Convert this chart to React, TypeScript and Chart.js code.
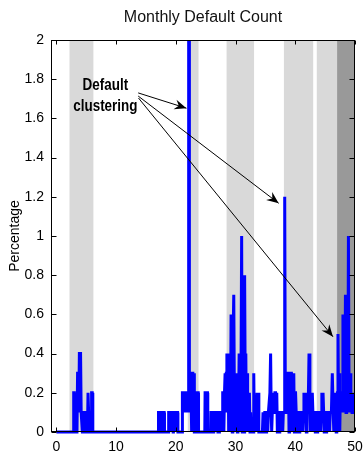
import React, { useEffect, useRef } from "react";
import { Chart, registerables } from "chart.js";

Chart.register(...registerables);

const chartTitle = "Monthly Default Count";
const yAxisTitle = "Percentage";
const xTickValues = [0, 10, 20, 30, 40, 50];
const yTickValues = [0, 0.2, 0.4, 0.6, 0.8, 1, 1.2, 1.4, 1.6, 1.8, 2];
const yTickLabels = ["0", "0.2", "0.4", "0.6", "0.8", "1", "1.2", "1.4", "1.6", "1.8", "2"];

// time (years) and monthly default percentage
const timeYears = [
  0, 2.8, 2.9, 3.0, 3.1, 3.45, 3.55, 3.65, 3.75, 3.85, 4.05, 4.15, 4.25, 4.35, 4.45, 4.55, 4.65, 4.75, 4.9, 5.0, 5.2, 5.3, 5.4, 5.5, 5.8, 5.9, 6.0, 6.1,
  17.05, 17.1, 17.35, 17.4, 17.75, 17.8, 18.05, 18.1, 18.75, 18.8, 19.1, 19.15, 19.2, 19.5, 19.55, 19.6, 19.9, 19.95, 20.0, 20.3, 20.35,
  21.05, 21.1, 21.4, 21.45, 21.5, 21.85, 21.9, 22.1, 22.15, 22.22, 22.27, 22.4, 22.55, 22.6, 22.7, 22.85, 22.95, 23.05, 23.1, 23.35, 23.4, 23.75, 23.8,
  24.85, 24.9, 25.3, 25.35, 25.85, 25.9, 26.2, 26.25, 26.35, 26.65, 26.7, 26.75, 27.0, 27.05, 27.25, 27.3, 27.6, 27.65,
  27.75, 27.85, 27.95, 28.05, 28.15, 28.25, 28.35, 28.45, 28.55, 28.65, 28.75, 28.85, 28.95, 29.05, 29.15, 29.25, 29.35, 29.45, 29.55, 29.7,
  29.8, 29.9, 30.0, 30.1, 30.2, 30.3, 30.4, 30.5, 30.6, 30.7, 30.8, 30.9, 31.02, 31.12, 31.22, 31.32, 31.42, 31.52, 31.62, 31.72,
  31.82, 31.92, 32.02, 32.12, 32.22, 32.32, 32.42, 32.52, 32.62, 32.95, 33.05, 33.15, 33.3, 33.45, 33.6, 33.7, 33.8, 33.9,
  34.5, 34.6, 34.7, 34.8, 34.9, 35.0, 35.1, 35.2, 35.3, 35.4,
  35.5, 35.6, 35.75, 35.87, 35.97, 36.05, 36.15, 36.25, 36.4, 36.5,
  36.6, 36.7, 36.8, 36.9, 37.0, 37.1, 37.2, 37.3, 37.4, 37.5,
  37.6, 37.7, 37.8, 37.9, 38.0, 38.12, 38.23, 38.34, 38.45, 38.55,
  38.65, 38.75, 38.85, 38.95, 39.05, 39.15, 39.25, 39.35, 39.45, 39.55,
  39.65, 39.75, 39.85, 39.95, 40.05, 40.15, 40.25, 40.35, 40.45, 40.55,
  40.65, 40.75, 40.85, 40.95, 41.05, 41.15, 41.25, 41.35, 41.45, 41.55,
  41.65, 41.75, 41.85, 41.95, 42.05, 42.15, 42.3, 42.45, 42.55, 42.65,
  42.75, 42.85, 42.95, 43.05, 43.15, 43.25, 43.35, 43.45, 43.55, 43.65,
  43.75, 43.85, 43.95, 44.05, 44.15, 44.25, 44.35, 44.45, 44.55, 44.65,
  44.75, 44.85, 44.95, 45.05, 45.15, 45.25, 45.35, 45.45, 45.55, 45.65,
  45.75, 45.85, 45.95, 46.05, 46.2, 46.35, 46.45, 46.55, 46.65, 46.75,
  46.85, 46.95, 47.05, 47.15, 47.25, 47.35, 47.45, 47.55, 47.65, 47.75,
  47.85, 47.98, 48.1, 48.2, 48.3, 48.4, 48.5, 48.6, 48.7, 48.8,
  48.9, 49.0, 49.1, 49.2, 49.3, 49.4, 49.5, 49.6, 49.7, 49.8,
  49.9,
];
const defaultPct = [
  0, 0, 0.2, 0.2, 0, 0, 0.3, 0.3, 0.1, 0.4, 0.4, 0.1, 0.1, 0, 0.1, 0.1, 0, 0.1, 0.1, 0, 0, 0.2, 0.2, 0, 0, 0.2, 0.2, 0,
  0, 0.1, 0.1, 0, 0, 0.1, 0.1, 0, 0, 0.1, 0.1, 0, 0.1, 0.1, 0, 0.1, 0.1, 0, 0.1, 0.1, 0,
  0, 0.2, 0.2, 0.1, 0.2, 0.2, 0.1, 0.2, 2.4, 2.4, 0.1, 0.2, 0.2, 0, 0.3, 0.3, 0.1, 0.3, 0, 0, 0.2, 0.2, 0,
  0, 0.2, 0.2, 0, 0, 0.1, 0.1, 0, 0.1, 0.1, 0, 0.1, 0.1, 0, 0, 0.1, 0.1, 0,
  0.1, 0.2, 0.2, 0, 0.2, 0.3, 0.1, 0.3, 0.4, 0.2, 0.4, 0, 0.3, 0.2, 0, 0.6, 0.3, 0, 0.4, 0.7,
  0.2, 0, 0.3, 0.1, 0.3, 0, 0.3, 0.1, 0.4, 0, 0.4, 0.2, 1.0, 0, 0.4, 0.3, 0, 0.8, 0.2, 0.4,
  0, 0.3, 0.1, 0.2, 0, 0.2, 0, 0.1, 0, 0, 0.3, 0, 0.1, 0, 0.2, 0.1, 0.2, 0,
  0, 0.1, 0.1, 0, 0.1, 0.1, 0, 0.1, 0.1, 0,
  0.1, 0.1, 0.2, 0.4, 0.1, 0, 0.1, 0.1, 0.2, 0.1,
  0.2, 0.2, 0.1, 0.2, 0, 0.1, 0.1, 0, 0.1, 0.1,
  0, 0.1, 0.1, 0, 0.1, 0.1, 1.2, 0.1, 0.1, 0.3,
  0.1, 0.3, 0.3, 0, 0.3, 0.2, 0.3, 0.3, 0, 0.3,
  0.2, 0.3, 0, 0.2, 0.2, 0.1, 0.1, 0, 0.1, 0.1,
  0, 0.1, 0.1, 0, 0.1, 0.1, 0, 0.1, 0.2, 0.1,
  0.2, 0.1, 0, 0.2, 0.1, 0.1, 0.4, 0.1, 0, 0.2,
  0.1, 0.2, 0.2, 0, 0.1, 0.1, 0, 0.1, 0.1, 0,
  0.1, 0.1, 0, 0.1, 0.1, 0, 0.1, 0.2, 0.1, 0.2,
  0.2, 0, 0.1, 0.1, 0, 0.1, 0.1, 0, 0.1, 0.1,
  0, 0.1, 0.1, 0.1, 0.3, 0.1, 0, 0.1, 0.2, 0.1,
  0, 0.1, 0.2, 0.5, 0.1, 0.3, 0, 0.2, 0.2, 0.1,
  0.2, 0.6, 0.1, 0.3, 0.2, 0.7, 0.1, 0.3, 0.2, 0.1,
  1.0, 0.2, 0.1, 0.3, 0.1, 0.2, 0.1, 0.2, 0.1, 0.2,
  0.1,
];

// shaded periods
const lightBandStart = [2.2, 22.0, 28.5, 38.1, 43.6];
const lightBandEnd = [6.2, 23.8, 33.1, 43.0, 47.0];
const darkBandStart = [47.0];
const darkBandEnd = [50];

// annotation
const annotationLines = ["Default", "clustering"];
const annotationX = 8.2;
const annotationY = [1.745, 1.638];
const arrowFromX = [13.7, 13.7, 13.75];
const arrowFromY = [1.73, 1.714, 1.704];
const arrowToX = [21.78, 37.22, 46.31];
const arrowToY = [1.652, 1.167, 0.486];

const REGULAR = "'Liberation Sans', Arial, Helvetica, sans-serif";

function drawArrow(ctx: CanvasRenderingContext2D, x1: number, y1: number, x2: number, y2: number) {
  ctx.beginPath();
  ctx.moveTo(x1, y1);
  ctx.lineTo(x2, y2);
  ctx.stroke();
  const ang = Math.atan2(y2 - y1, x2 - x1);
  const len = 12;
  const half = 5;
  const notch = 4;
  const cos = Math.cos(ang);
  const sin = Math.sin(ang);
  const bx = x2 - len * cos;
  const by = y2 - len * sin;
  ctx.beginPath();
  ctx.moveTo(x2, y2);
  ctx.lineTo(bx - half * sin, by + half * cos);
  ctx.lineTo(x2 - (len - notch) * cos, y2 - (len - notch) * sin);
  ctx.lineTo(bx + half * sin, by - half * cos);
  ctx.closePath();
  ctx.fill();
}

const decorPlugin = {
  id: "decor",
  beforeDatasetsDraw(chart: any) {
    const { ctx, chartArea: a, scales } = chart;
    const x = scales.x;
    ctx.save();
    ctx.beginPath();
    ctx.rect(a.left, a.top, a.right - a.left, a.bottom - a.top);
    ctx.clip();
    ctx.fillStyle = "#d9d9d9";
    lightBandStart.forEach((s, i) => {
      const p1 = x.getPixelForValue(s);
      const p2 = x.getPixelForValue(lightBandEnd[i]);
      ctx.fillRect(p1, a.top, p2 - p1, a.bottom - a.top);
    });
    ctx.fillStyle = "#999999";
    darkBandStart.forEach((s, i) => {
      const p1 = x.getPixelForValue(s);
      const p2 = x.getPixelForValue(darkBandEnd[i]);
      ctx.fillRect(p1, a.top, p2 - p1, a.bottom - a.top);
    });
    ctx.restore();
  },
  afterDatasetsDraw(chart: any) {
    const { ctx, chartArea: a, scales } = chart;
    const x = scales.x;
    const y = scales.y;
    ctx.save();
    ctx.strokeStyle = "#000";
    ctx.lineWidth = 1;
    const L = Math.round(a.left) + 0.5;
    const R = Math.round(a.right) - 0.5;
    const T = Math.round(a.top) + 0.5;
    const B = Math.round(a.bottom) - 0.5;
    ctx.strokeRect(L, T, R - L, B - T);
    ctx.beginPath();
    yTickValues.forEach((v) => {
      const py = Math.round(y.getPixelForValue(v)) + 0.5;
      ctx.moveTo(L, py);
      ctx.lineTo(L + 5, py);
      ctx.moveTo(R, py);
      ctx.lineTo(R - 5, py);
    });
    xTickValues.forEach((v) => {
      const px = Math.round(x.getPixelForValue(v)) + 0.5;
      ctx.moveTo(px, B);
      ctx.lineTo(px, B - 4);
      ctx.moveTo(px, T);
      ctx.lineTo(px, T + 4);
    });
    ctx.stroke();

    // arrows
    ctx.fillStyle = "#000";
    arrowFromX.forEach((fx, i) => {
      drawArrow(
        ctx,
        x.getPixelForValue(fx),
        y.getPixelForValue(arrowFromY[i]),
        x.getPixelForValue(arrowToX[i]),
        y.getPixelForValue(arrowToY[i])
      );
    });

    // annotation text (condensed bold)
    ctx.font = `bold 16px ${REGULAR}`;
    ctx.textAlign = "center";
    ctx.textBaseline = "alphabetic";
    annotationLines.forEach((t, i) => {
      ctx.save();
      ctx.translate(x.getPixelForValue(annotationX), y.getPixelForValue(annotationY[i]));
      ctx.scale(0.84, 1);
      ctx.fillText(t, 0, 0);
      ctx.restore();
    });

    // title
    ctx.font = `16px ${REGULAR}`;
    ctx.fillStyle = "#111";
    ctx.fillText(chartTitle, (a.left + a.right) / 2, 22);
    ctx.restore();
  },
};

export default function App() {
  const ref = useRef<HTMLCanvasElement | null>(null);
  useEffect(() => {
    if (!ref.current) return;
    const points = timeYears.map((t, i) => ({ x: t, y: defaultPct[i] }));
    const chart = new Chart(ref.current, {
      type: "line",
      data: {
        datasets: [
          {
            data: points,
            borderColor: "#0000ff",
            backgroundColor: "#0000ff",
            borderWidth: 3,
            pointRadius: 0,
            tension: 0,
            fill: false,
            clip: { left: 0, top: 0, right: 0, bottom: 3 },
          } as any,
        ],
      },
      options: {
        animation: false,
        responsive: false,
        devicePixelRatio: 1,
        layout: { padding: { top: 40, right: 9, left: 0, bottom: 0 } },
        plugins: {
          legend: { display: false },
          tooltip: { enabled: false },
          title: { display: false },
        },
        scales: {
          x: {
            type: "linear",
            min: -0.9,
            max: 50,
            afterFit(s: any) {
              s.height = 25;
              s.paddingLeft = 0;
              s.paddingRight = 0;
            },
            afterBuildTicks(s: any) {
              s.ticks = xTickValues.map((v) => ({ value: v }));
            },
            ticks: {
              font: { family: REGULAR, size: 14 },
              color: "#000",
              padding: 7,
              maxRotation: 0,
              autoSkip: false,
            },
            grid: { display: false, drawTicks: false },
            border: { display: false },
          },
          y: {
            type: "linear",
            min: 0,
            max: 2,
            afterFit(s: any) {
              s.width = 51;
            },
            afterBuildTicks(s: any) {
              s.ticks = yTickValues.map((v) => ({ value: v }));
            },
            ticks: {
              font: { family: REGULAR, size: 14 },
              color: "#000",
              padding: 7,
              autoSkip: false,
              callback: (_v: any, i: number) => yTickLabels[i],
            },
            grid: { display: false, drawTicks: false },
            border: { display: false },
            title: {
              display: true,
              text: yAxisTitle,
              font: { family: REGULAR, size: 14 },
              color: "#000",
              padding: { top: 7, bottom: 0 },
            },
          },
        },
      },
      plugins: [decorPlugin],
    });
    return () => chart.destroy();
  }, []);
  return (
    <div style={{ position: "absolute", left: 0, top: 0, width: 364, height: 457, background: "#fff" }}>
      <canvas ref={ref} width={364} height={457} />
    </div>
  );
}
